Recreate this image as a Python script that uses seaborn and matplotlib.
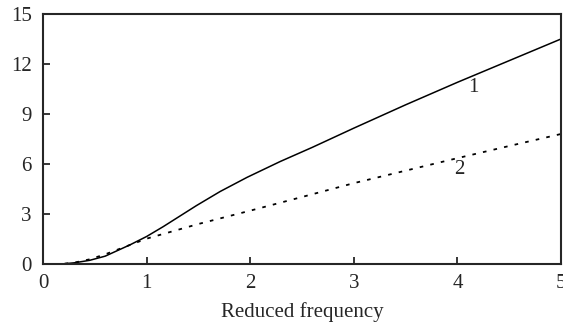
import numpy as np
import pandas as pd
import matplotlib
matplotlib.use("Agg")
import matplotlib.pyplot as plt
import seaborn as sns

# values
freq_1 = [0.0, 0.18, 0.3, 0.45, 0.6, 0.84, 1.0, 1.16, 1.48, 1.71, 1.97, 2.29,
          2.6, 3.0, 3.5, 4.0, 4.5, 5.0]
curve_1 = [0.0, 0.0, 0.07, 0.22, 0.47, 1.15, 1.65, 2.24, 3.5, 4.35, 5.2, 6.15,
           7.0, 8.15, 9.55, 10.9, 12.2, 13.5]

freq_2 = [0.0, 0.18, 0.3, 0.45, 0.6, 0.8, 1.0, 1.5, 2.0, 2.5, 3.0, 3.5, 4.0, 4.5, 5.0]
curve_2 = [0.0, 0.0, 0.08, 0.28, 0.58, 1.05, 1.52, 2.4, 3.2, 4.02, 4.85, 5.6, 6.35, 7.08, 7.8]

df1 = pd.DataFrame({"x": freq_1, "y": curve_1})
df2 = pd.DataFrame({"x": freq_2, "y": curve_2})

sns.set_style("ticks")
plt.rcParams['font.family'] = ['Liberation Serif', 'DejaVu Serif']

fig = plt.figure(figsize=(5.63, 3.30), dpi=100)
ax = fig.add_axes([0.0764, 0.2, 0.92, 0.7576])

sns.lineplot(data=df1, x="x", y="y", ax=ax, color="black", linewidth=1.1)
sns.lineplot(data=df2, x="x", y="y", ax=ax, color="black", linewidth=1.3,
             linestyle=(0, (2, 4)))

ax.text(4.15, 10.6, "1", fontsize=15, ha="center", va="center")
ax.text(4.02, 5.65, "2", fontsize=15, ha="center", va="center")

ax.set_xlim(0, 5)
ax.set_ylim(0, 15)
ax.set_xticks([0, 1, 2, 3, 4, 5])
ax.set_yticks([0, 3, 6, 9, 12, 15])
ax.tick_params(direction="in", length=5, width=1.3, labelsize=15)
ax.tick_params(axis="y", pad=8)
ax.tick_params(axis="x", pad=7)
ax.set_xlabel("Reduced frequency", fontsize=15, labelpad=7)
ax.set_ylabel("")
for s in ax.spines.values():
    s.set_linewidth(1.5)
    s.set_visible(True)

fig.savefig("out.png", dpi=100)
